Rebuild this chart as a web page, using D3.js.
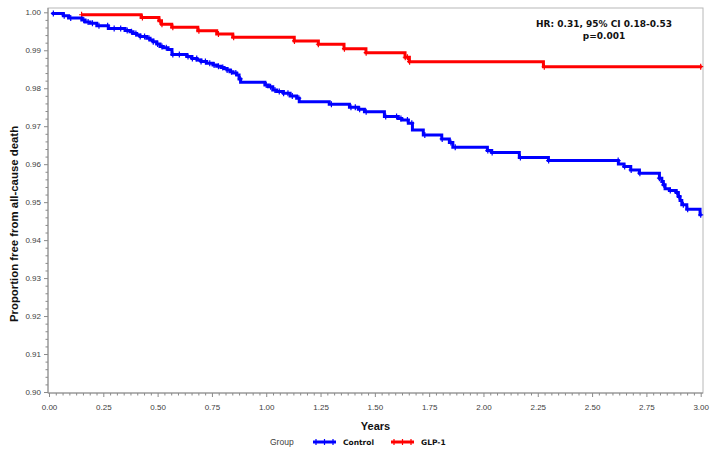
<!DOCTYPE html>
<html><head><meta charset="utf-8">
<script src="https://cdn.jsdelivr.net/npm/d3@7"></script>
<style>html,body{margin:0;padding:0;background:#fff;}svg{display:block;}</style>
</head><body>
<svg id="c" width="714" height="460"></svg>
<script>
// ---- data ----
const controlTimes = [0.012,0.066,0.090,0.151,0.166,0.189,0.220,0.273,0.350,0.373,0.387,0.404,0.419,0.450,0.465,0.479,0.496,0.511,0.526,0.548,0.566,0.634,0.658,0.681,0.700,0.726,0.755,0.772,0.792,0.806,0.820,0.833,0.847,0.864,0.875,0.882,0.994,1.010,1.030,1.048,1.079,1.110,1.140,1.152,1.290,1.383,1.424,1.452,1.544,1.608,1.624,1.654,1.673,1.723,1.808,1.843,1.859,2.018,2.038,2.165,2.299,2.621,2.647,2.678,2.718,2.810,2.821,2.828,2.836,2.856,2.887,2.897,2.905,2.913,2.936,2.997];
const controlSurv  = [0.9997,0.9991,0.9985,0.9980,0.99745,0.9971,0.99645,0.99574,0.99521,0.9949,0.99442,0.99403,0.99363,0.99316,0.99271,0.99226,0.99166,0.9910,0.99068,0.99021,0.98889,0.98837,0.98784,0.98745,0.98705,0.98658,0.98613,0.98579,0.98547,0.98521,0.98482,0.98437,0.98403,0.98350,0.98245,0.98160,0.98087,0.98042,0.97955,0.97911,0.97868,0.97797,0.97737,0.97647,0.97579,0.97500,0.97447,0.97384,0.97253,0.97200,0.97166,0.97079,0.96903,0.96771,0.96666,0.96568,0.96447,0.96358,0.96305,0.96174,0.96095,0.96008,0.95937,0.95850,0.95763,0.95632,0.95542,0.95455,0.95350,0.95305,0.95253,0.95147,0.95042,0.94929,0.94816,0.94666];
const controlCensor = [0.02,0.07,0.10,0.16,0.18,0.20,0.23,0.27,0.30,0.33,0.36,0.38,0.40,0.42,0.44,0.46,0.48,0.50,0.52,0.54,0.57,0.60,0.64,0.66,0.68,0.70,0.72,0.74,0.76,0.78,0.80,0.82,0.84,0.86,0.88,1.00,1.02,1.04,1.06,1.08,1.10,1.12,1.15,1.30,1.39,1.41,1.43,1.46,1.55,1.60,1.62,1.65,1.67,1.73,1.81,1.85,1.87,2.02,2.04,2.17,2.30,2.62,2.65,2.68,2.72,2.81,2.83,2.86,2.89,2.90,2.92,2.94,3.00];
const glpTimes = [0.150,0.424,0.506,0.518,0.565,0.685,0.772,0.846,1.129,1.240,1.358,1.459,1.639,1.659,2.276];
const glpSurv  = [0.99935,0.99860,0.99779,0.99684,0.99605,0.99516,0.99429,0.99342,0.99245,0.99158,0.99042,0.98937,0.98816,0.98700,0.98568];
const glpCensor = [0.15,0.43,0.51,0.52,0.57,0.69,0.78,0.85,1.13,1.24,1.36,1.46,1.64,1.65,1.66,2.28,3.00];
const xTicks = [0,0.25,0.5,0.75,1,1.25,1.5,1.75,2,2.25,2.5,2.75,3];
const yTicks = [0.90,0.91,0.92,0.93,0.94,0.95,0.96,0.97,0.98,0.99,1.00];
const groups = ["Control","GLP-1"];
const colors = ["#0000FF","#FF0000"];
const tEnd = 3.005;

// ---- layout ----
const svg = d3.select("#c");
const L = 48, R = 703, T = 8, B = 393;
const x = d3.scaleLinear().domain([0,3]).range([49,700.7]);
const y = d3.scaleLinear().domain([0.90,1.00]).range([392,12.3]);

// frame
svg.append("rect").attr("x",L).attr("y",T).attr("width",R-L).attr("height",B-T)
  .attr("fill","none").attr("stroke","#b8b8b8").attr("stroke-width",1);

// axes
const xMinor = d3.range(0,3.0001,0.25/8).filter(v=>Math.abs(v/0.25-Math.round(v/0.25))>1e-6);
const yMinor = d3.range(0.90,1.0001,0.002).filter(v=>Math.abs(v*100-Math.round(v*100))>1e-6);
const axCol = "#8a8a8a";
const gx = svg.append("g").attr("transform",`translate(0,${B})`);
gx.call(d3.axisBottom(x).tickValues(xMinor).tickSize(2.5).tickFormat(""));
gx.call(g=>g.selectAll(".tick line").attr("stroke",axCol));
const gx2 = svg.append("g").attr("transform",`translate(0,${B})`);
gx2.call(d3.axisBottom(x).tickValues(xTicks).tickSize(4).tickPadding(7).tickFormat(d3.format(".2f")));
[gx,gx2].forEach(g=>g.select(".domain").remove());
gx2.selectAll(".tick line").attr("stroke",axCol);
gx2.selectAll("text").attr("font-family","Liberation Sans, Arial, sans-serif").attr("font-size",8).attr("fill","#404040");

const gy = svg.append("g").attr("transform",`translate(${L},0)`);
gy.call(d3.axisLeft(y).tickValues(yMinor).tickSize(2.5).tickFormat(""));
const gy2 = svg.append("g").attr("transform",`translate(${L},0)`);
gy2.call(d3.axisLeft(y).tickValues(yTicks).tickSize(4).tickPadding(3).tickFormat(d3.format(".2f")));
[gy,gy2].forEach(g=>{g.select(".domain").remove(); g.selectAll(".tick line").attr("stroke",axCol);});
gy2.selectAll("text").attr("font-family","Liberation Sans, Arial, sans-serif").attr("font-size",8).attr("fill","#404040");
svg.append("line").attr("x1",L).attr("x2",R).attr("y1",B).attr("y2",B).attr("stroke",axCol);
svg.append("line").attr("x1",L).attr("x2",L).attr("y1",T).attr("y2",B).attr("stroke",axCol);

// curves
function stepVal(times, surv, t){
  let v = surv[0];
  for (let i=0;i<times.length;i++){ if (times[i] <= t) v = surv[i]; }
  return v;
}
const line = d3.line().x(d=>x(d[0])).y(d=>y(d[1])).curve(d3.curveStepAfter);
const series = [
  {times:controlTimes, surv:controlSurv, cens:controlCensor, color:colors[0]},
  {times:glpTimes, surv:glpSurv, cens:glpCensor, color:colors[1]}
];
const plus = "M-2.5,0H2.5M0,-3V3";
series.slice().reverse().forEach(s=>{
  const pts = s.times.map((t,i)=>[t,s.surv[i]]);
  pts.push([tEnd, s.surv[s.surv.length-1]]);
  svg.append("path").datum(pts).attr("d",line).attr("fill","none")
    .attr("stroke",s.color).attr("stroke-width",3);
  svg.append("g").selectAll("path").data(s.cens).join("path")
    .attr("d",plus).attr("transform",t=>`translate(${x(Math.min(t,tEnd))},${y(stepVal(s.times,s.surv,t))})`)
    .attr("stroke",s.color).attr("stroke-width",1.2).attr("fill","none");
});

// annotation
svg.append("text").attr("x",604).attr("y",27).attr("text-anchor","middle")
  .attr("font-family","DejaVu Sans, Verdana, sans-serif").attr("font-weight","bold").attr("font-size",9)
  .attr("fill","#111").text("HR: 0.31, 95% CI 0.18-0.53");
svg.append("text").attr("x",604).attr("y",39).attr("text-anchor","middle")
  .attr("font-family","DejaVu Sans, Verdana, sans-serif").attr("font-weight","bold").attr("font-size",9)
  .attr("fill","#111").text("p=0.001");

// axis titles
svg.append("text").attr("x",375.5).attr("y",430).attr("text-anchor","middle")
  .attr("font-family","Liberation Sans, Arial, sans-serif").attr("font-weight","bold").attr("font-size",11)
  .attr("fill","#111").text("Years");
svg.append("text").attr("transform","translate(18,224) rotate(-90)").attr("text-anchor","middle")
  .attr("font-family","Liberation Sans, Arial, sans-serif").attr("font-weight","bold").attr("font-size",11.4)
  .attr("fill","#111").text("Proportion free from all-cause death");

// legend
const ly = 442;
svg.append("text").attr("x",270).attr("y",ly+3).attr("font-family","Liberation Sans, Arial, sans-serif")
  .attr("font-size",8.5).attr("fill","#404040").text("Group");
const legX = [313, 391];
groups.forEach((gname,i)=>{
  const g = svg.append("g");
  g.append("line").attr("x1",legX[i]).attr("x2",legX[i]+23).attr("y1",ly).attr("y2",ly)
    .attr("stroke",colors[i]).attr("stroke-width",3);
  [3,11.5,20].forEach(o=>g.append("path").attr("d",plus).attr("transform",`translate(${legX[i]+o},${ly})`)
    .attr("stroke",colors[i]).attr("stroke-width",1.2));
  g.append("text").attr("x",legX[i]+30).attr("y",ly+3).attr("font-family","DejaVu Sans, Verdana, sans-serif")
    .attr("font-weight","bold").attr("font-size",7.5).attr("fill","#111").text(gname);
});
</script>
</body></html>
